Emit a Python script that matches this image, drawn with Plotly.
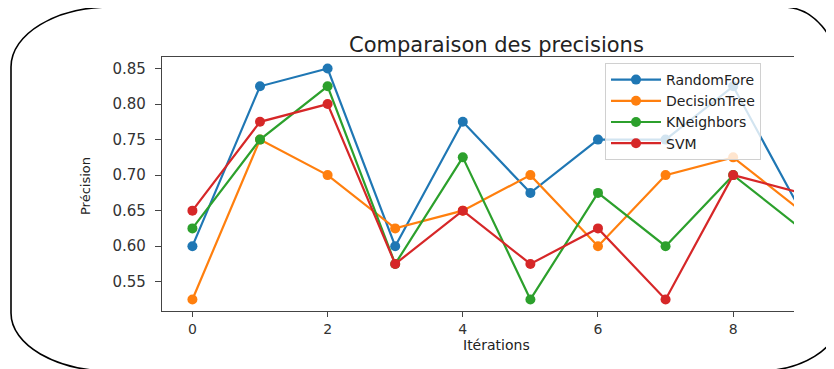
import plotly.graph_objects as go

iterations = [0, 1, 2, 3, 4, 5, 6, 7, 8, 9]
random_forest = [0.600, 0.825, 0.850, 0.600, 0.775, 0.675, 0.750, 0.750, 0.825, 0.650]
decision_tree = [0.525, 0.750, 0.700, 0.625, 0.650, 0.700, 0.600, 0.700, 0.725, 0.650]
kneighbors = [0.625, 0.750, 0.825, 0.575, 0.725, 0.525, 0.675, 0.600, 0.700, 0.625]
svm = [0.650, 0.775, 0.800, 0.575, 0.650, 0.575, 0.625, 0.525, 0.700, 0.675]

series_names = ["RandomFore", "DecisionTree", "KNeighbors", "SVM"]
series_values = [random_forest, decision_tree, kneighbors, svm]
colors = ["#1f77b4", "#ff7f0e", "#2ca02c", "#d62728"]

x_ticks = [0, 2, 4, 6, 8]
y_ticks = [0.55, 0.60, 0.65, 0.70, 0.75, 0.80, 0.85]

# page has an 8px body margin: work in page pixels, convert to figure space
OFF = 8
W, H = 834 - OFF, 369 - OFF
PL, PR, PT, PB = 162, 794, 57, 311  # plot area in page pixels
ML, MR, MT, MB = PL - OFF, W - (PR - OFF), PT - OFF, H - (PB - OFF)
PW, PH = PR - PL, PB - PT


def px(x):
    return (x - PL) / PW


def py(y):
    return (PB - y) / PH


FONT = "DejaVu Sans"

fig = go.Figure()
for name, vals, col in zip(series_names, series_values, colors):
    fig.add_trace(go.Scatter(
        x=iterations, y=vals, name=name, mode="lines+markers",
        line=dict(color=col, width=2.2),
        marker=dict(color=col, size=10),
        cliponaxis=True,
    ))

# rounded frame (page pixels)
L, T, R, B = 11, 7, 838, 371
k = 0.5523


def corner(x0, y0, x1, y1, horiz_first):
    if horiz_first:
        c1 = (x0 + (x1 - x0) * k, y0)
        c2 = (x1, y1 - (y1 - y0) * k)
    else:
        c1 = (x0, y0 + (y1 - y0) * k)
        c2 = (x1 - (x1 - x0) * k, y1)
    return "C {} {} {} {} {} {}".format(px(c1[0]), py(c1[1]), px(c2[0]), py(c2[1]), px(x1), py(y1))


tl = (100, 60)
tr = (55, 65)
br = (80, 50)
bl = (100, 58)
path = "M {} {} ".format(px(L + tl[0]), py(T))
path += "L {} {} ".format(px(R - tr[0]), py(T))
path += corner(R - tr[0], T, R, T + tr[1], True) + " "
path += "L {} {} ".format(px(R), py(B - br[1]))
path += corner(R, B - br[1], R - br[0], B, False) + " "
path += "L {} {} ".format(px(L + bl[0]), py(B))
path += corner(L + bl[0], B, L, B - bl[1], True) + " "
path += "L {} {} ".format(px(L), py(T + tl[1]))
path += corner(L, T + tl[1], L + tl[0], T, False) + " Z"

fig.add_shape(type="path", path=path, xref="paper", yref="paper",
              line=dict(color="black", width=1.6), layer="below")

fig.add_annotation(text="Comparaison des precisions", xref="paper", yref="paper",
                   x=px(496), y=py(45), xanchor="center", yanchor="middle",
                   showarrow=False, font=dict(family=FONT, size=21, color="#222"))
fig.add_annotation(text="Itérations", xref="paper", yref="paper",
                   x=px(496), y=py(345), xanchor="center", yanchor="middle",
                   showarrow=False, font=dict(family=FONT, size=14, color="#222"))
fig.add_annotation(text="Précision", xref="paper", yref="paper", textangle=-90,
                   x=px(85), y=py(186), xanchor="center", yanchor="middle",
                   showarrow=False, font=dict(family=FONT, size=13, color="#222"))

fig.update_layout(
    width=W, height=H,
    margin=dict(l=ML, r=MR, t=MT, b=MB, pad=0),
    paper_bgcolor="white", plot_bgcolor="white",
    font=dict(family=FONT, color="#333"),
    showlegend=True,
    legend=dict(
        x=px(605), y=py(63), xanchor="left", yanchor="top",
        bgcolor="rgba(255,255,255,0.8)", bordercolor="#d0d0d0", borderwidth=1,
        font=dict(family=FONT, size=14, color="#222"),
        tracegroupgap=0, itemwidth=50,
    ),
    xaxis=dict(
        range=[-0.45, 8.9], tickmode="array", tickvals=x_ticks,
        ticktext=[str(v) for v in x_ticks],
        showgrid=False, zeroline=False, showline=True, linecolor="#444", linewidth=1.3,
        mirror=True, ticks="outside", ticklen=5, tickcolor="#444",
        tickfont=dict(family=FONT, size=14, color="#333"),
        automargin=False,
    ),
    yaxis=dict(
        range=[0.50875, 0.86625], tickmode="array", tickvals=y_ticks,
        ticktext=["{:.2f}".format(v) for v in y_ticks],
        showgrid=False, zeroline=False, showline=True, linecolor="#444", linewidth=1.3,
        ticks="outside", ticklen=6, tickcolor="#444", ticklabelstandoff=6,
        tickfont=dict(family=FONT, size=15, color="#333"),
        automargin=False,
    ),
)

fig.write_html("out.html")
